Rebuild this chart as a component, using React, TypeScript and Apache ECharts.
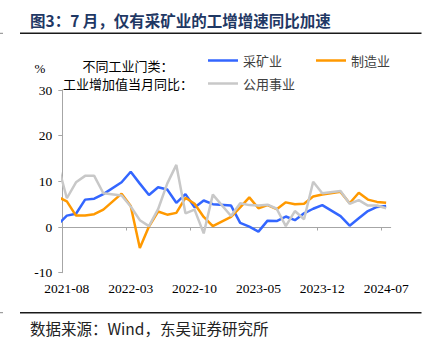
import React, { useEffect, useRef } from "react";
import * as echarts from "echarts";

// Months (2021-07 is only partly visible: the plot clips it at the y axis)
const months = [
  "2021-07", "2021-08", "2021-09", "2021-10", "2021-11", "2021-12",
  "2022-01", "2022-02", "2022-03", "2022-04", "2022-05", "2022-06",
  "2022-07", "2022-08", "2022-09", "2022-10", "2022-11", "2022-12",
  "2023-01", "2023-02", "2023-03", "2023-04", "2023-05", "2023-06",
  "2023-07", "2023-08", "2023-09", "2023-10", "2023-11", "2023-12",
  "2024-01", "2024-02", "2024-03", "2024-04", "2024-05", "2024-06",
  "2024-07",
];
const tickLabels = ["2021-08", "2022-03", "2022-10", "2023-05", "2023-12", "2024-07"];

// 采矿业 (January values are not published separately)
const mining = [
  0.5, 2.5, 2.9, 6.0, 6.2, 7.2,
  null, 9.8, 12.1, 9.5, 7.0, 8.7,
  8.2, 5.3, 7.2, 4.3, 5.8, 5.0,
  null, 4.7, 0.9, 0.1, -1.0, 1.4,
  1.3, 2.3, 1.5, 3.0, 4.0, 4.8,
  null, 2.4, 0.3, 1.9, 3.5, 4.4,
  4.6,
];
// 制造业
const manufacturing = [
  6.6, 5.6, 2.5, 2.5, 2.8, 3.8,
  null, 7.3, 4.6, -4.6, 0.1, 3.4,
  2.7, 3.1, 6.4, 5.1, 2.2, 0.2,
  null, 2.2, 4.3, 6.5, 4.1, 4.8,
  3.9, 5.4, 5.0, 5.1, 6.7, 7.1,
  null, 7.7, 5.2, 7.5, 6.0, 5.5,
  5.3,
];
// 公用事业
const utilities = [
  13.8, 6.3, 9.8, 11.2, 11.2, 7.4,
  null, 6.9, 4.5, 1.5, 0.2, 3.9,
  9.5, 13.6, 3.0, 3.8, -1.4, 7.1,
  null, 2.4, 5.2, 4.8, 4.7, 4.9,
  4.0, 0.2, 3.5, 1.7, 9.9, 7.4,
  null, 7.9, 5.1, 5.9, 4.7, 4.7,
  4.1,
];

const seriesNames = ["采矿业", "制造业", "公用事业"];
const seriesColors = ["#3366ff", "#ff9900", "#c8c8c8"];
const yMin = -10;
const yMax = 30;
const yStep = 10;

const CJK = "Noto Sans CJK SC";
const SERIF = "Liberation Serif";

export default function App() {
  const ref = useRef<HTMLDivElement>(null);

  useEffect(() => {
    const el = ref.current;
    if (!el) return;
    const chart = echarts.init(el, undefined, { renderer: "svg" });

    // category k is centred at k - 0.5 (2021-08 spans 0..1)
    const toData = (arr: (number | null)[]) => arr.map((v, k) => [k - 0.5, v]);
    const labelPos = tickLabels.map((l) => months.indexOf(l) - 0.5);
    const tickPos = labelPos.map((p) => p - 0.5);
    const axisColor = "#a6a6a6";

    const allSeries = [mining, manufacturing, utilities].map((arr, i) => ({
      name: seriesNames[i],
      type: "line",
      data: toData(arr),
      symbol: "none",
      connectNulls: true,
      clip: true,
      lineStyle: { width: 2.5, color: seriesColors[i] },
      itemStyle: { color: seriesColors[i] },
    }));

    const legendText = { fontFamily: CJK, fontSize: 13, color: "#404040" };
    const legendCommon = {
      left: 208,
      padding: 0,
      icon: "rect",
      itemWidth: 30,
      itemHeight: 2.5,
      textStyle: legendText,
      selectedMode: false,
    };

    chart.setOption({
      animation: false,
      backgroundColor: "#ffffff",
      textStyle: { fontFamily: CJK },
      grid: {
        left: 62.3,
        right: 40.3,
        top: 90,
        bottom: 74.3,
        containLabel: false,
        outerBoundsMode: "none",
      },
      legend: [
        {
          ...legendCommon,
          data: [seriesNames[0], seriesNames[1]],
          top: 54,
          itemGap: 34,
        },
        {
          ...legendCommon,
          data: [seriesNames[2]],
          top: 77,
        },
      ],
      xAxis: {
        type: "value",
        min: 0,
        max: months.length - 1,
        axisLine: { show: true, onZero: true, lineStyle: { color: axisColor, width: 1 } },
        axisTick: {
          show: true,
          customValues: tickPos,
          length: 3.5,
          lineStyle: { color: axisColor },
        },
        axisLabel: {
          customValues: labelPos,
          formatter: (v: number) => months[Math.round(v + 0.5)] ?? "",
          margin: 9,
          fontFamily: SERIF,
          fontSize: 13.5,
          color: "#000",
        },
        splitLine: { show: false },
      },
      yAxis: {
        type: "value",
        min: yMin,
        max: yMax,
        interval: yStep,
        axisLine: { show: true, lineStyle: { color: axisColor, width: 1 } },
        axisTick: { show: true, length: 4, lineStyle: { color: axisColor } },
        axisLabel: { fontFamily: SERIF, fontSize: 13.5, color: "#000", margin: 10 },
        splitLine: { show: false },
      },
      series: allSeries,
      graphic: [
        {
          type: "text",
          x: 30,
          y: 19.5,
          style: {
            text: "图3：7 月，仅有采矿业的工增增速同比加速",
            font: `bold 15.5px "${CJK}"`,
            fill: "#1f3864",
            align: "left",
            verticalAlign: "middle",
          },
        },
        {
          type: "line",
          shape: { x1: 20, y1: 33.3, x2: 421.5, y2: 33.3 },
          style: { stroke: "#1a1a1a", lineWidth: 1.4 },
        },
        {
          type: "line",
          shape: { x1: 0, y1: 33.3, x2: 3, y2: 33.3 },
          style: { stroke: "#888", lineWidth: 1 },
        },
        {
          type: "line",
          shape: { x1: 20, y1: 312.7, x2: 421.5, y2: 312.7 },
          style: { stroke: "#1a1a1a", lineWidth: 1.4 },
        },
        {
          type: "line",
          shape: { x1: 0, y1: 312.7, x2: 3, y2: 312.7 },
          style: { stroke: "#888", lineWidth: 1 },
        },
        {
          type: "text",
          x: 30,
          y: 328.3,
          style: {
            text: "数据来源：Wind，东吴证券研究所",
            font: `15.5px "${CJK}"`,
            fill: "#222",
            align: "left",
            verticalAlign: "middle",
          },
        },
        {
          type: "text",
          x: 40,
          y: 68.3,
          style: {
            text: "%",
            font: `13px "${SERIF}"`,
            fill: "#000",
            align: "center",
            verticalAlign: "middle",
          },
        },
        {
          type: "text",
          x: 128,
          y: 65,
          style: {
            text: "不同工业门类：",
            font: `13px "${CJK}"`,
            fill: "#000",
            align: "center",
            verticalAlign: "middle",
          },
        },
        {
          type: "text",
          x: 63,
          y: 83.5,
          style: {
            text: "工业增加值当月同比：",
            font: `13px "${CJK}"`,
            fill: "#000",
            align: "left",
            verticalAlign: "middle",
          },
        },
      ],
    });

    return () => {
      chart.dispose();
    };
  }, []);

  return (
    <div
      ref={ref}
      style={{ position: "fixed", left: 0, top: 0, width: 431, height: 347, background: "#fff" }}
    />
  );
}
